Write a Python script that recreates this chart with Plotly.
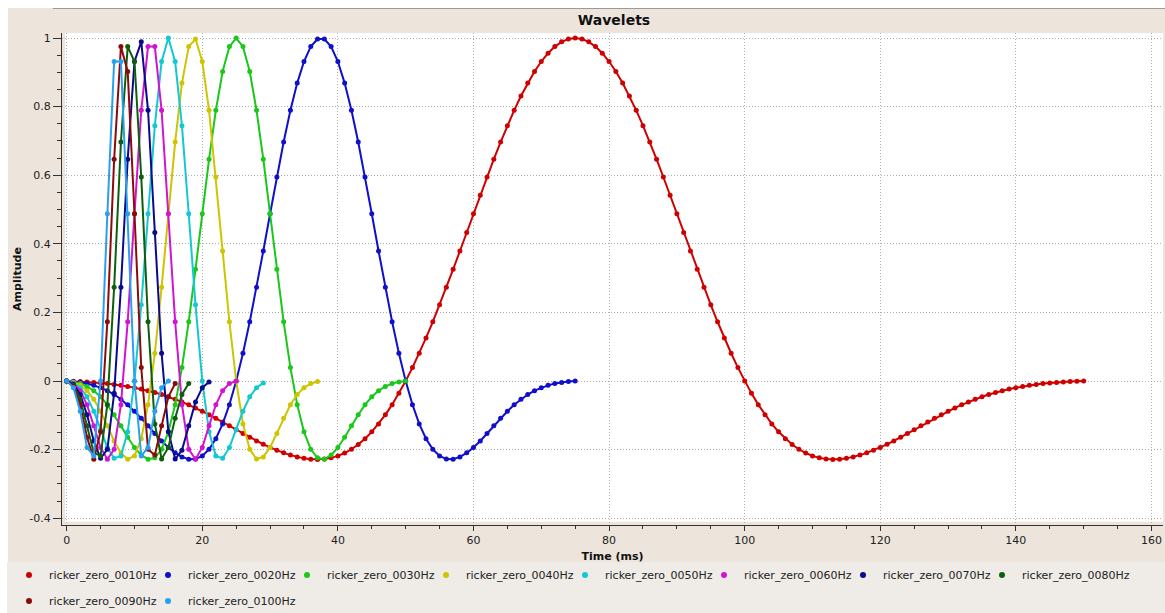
import numpy as np
import plotly.graph_objects as go

FONT = "DejaVu Sans"
SAMPLE_MS = 1.0  # every wavelet is sampled at 1 ms

series_names = [
    "ricker_zero_0010Hz", "ricker_zero_0020Hz", "ricker_zero_0030Hz",
    "ricker_zero_0040Hz", "ricker_zero_0050Hz", "ricker_zero_0060Hz",
    "ricker_zero_0070Hz", "ricker_zero_0080Hz", "ricker_zero_0090Hz",
    "ricker_zero_0100Hz",
]
series_colors = [
    "#d10000", "#0f0fcc", "#19c819", "#cdc500", "#14c8d2",
    "#d214d2", "#0a0a8c", "#0e5e0e", "#8b0a0a", "#28a0f0",
]

amp_0010hz = [
    0.0, -0.0007, -0.0015, -0.0026, -0.0040, -0.0056, -0.0075, -0.0099, -0.0126, -0.0157,
    -0.0194, -0.0235, -0.0282, -0.0335, -0.0394, -0.0460, -0.0532, -0.0610, -0.0694, -0.0785,
    -0.0881, -0.0982, -0.1088, -0.1197, -0.1308, -0.1420, -0.1532, -0.1641, -0.1747, -0.1846,
    -0.1937, -0.2020, -0.2095, -0.2160, -0.2214, -0.2255, -0.2280, -0.2287, -0.2275, -0.2241,
    -0.2183, -0.2100, -0.1990, -0.1851, -0.1682, -0.1482, -0.1250, -0.0986, -0.0689, -0.0360,
    0.0, 0.0391, 0.0810, 0.1257, 0.1727, 0.2220, 0.2730, 0.3255, 0.3791, 0.4333,
    0.4876, 0.5416, 0.5948, 0.6466, 0.6967, 0.7443, 0.7892, 0.8308, 0.8686, 0.9023,
    0.9314, 0.9557, 0.9749, 0.9888, 0.9972, 1.0,
    0.9972, 0.9888, 0.9749, 0.9557, 0.9314,
    0.9023, 0.8686, 0.8308, 0.7892, 0.7443, 0.6967, 0.6466, 0.5948, 0.5416, 0.4876,
    0.4333, 0.3791, 0.3255, 0.2730, 0.2220, 0.1727, 0.1257, 0.0810, 0.0391, 0.0,
    -0.0360, -0.0689, -0.0986, -0.1250, -0.1482, -0.1682, -0.1851, -0.1990, -0.2100, -0.2183,
    -0.2241, -0.2275, -0.2287, -0.2280, -0.2255, -0.2214, -0.2160, -0.2095, -0.2020, -0.1937,
    -0.1846, -0.1747, -0.1641, -0.1532, -0.1420, -0.1308, -0.1197, -0.1088, -0.0982, -0.0881,
    -0.0785, -0.0694, -0.0610, -0.0532, -0.0460, -0.0394, -0.0335, -0.0282, -0.0235, -0.0194,
    -0.0157, -0.0126, -0.0099, -0.0075, -0.0056, -0.0040, -0.0026, -0.0015, -0.0007, 0.0,
]
amp_0020hz = [
    0.0, -0.0015, -0.0040, -0.0075, -0.0126, -0.0194, -0.0282, -0.0394, -0.0532, -0.0694,
    -0.0881, -0.1088, -0.1308, -0.1532, -0.1747, -0.1937, -0.2095, -0.2214, -0.2280, -0.2275,
    -0.2183, -0.1990, -0.1682, -0.1250, -0.0689, 0.0, 0.0810, 0.1727, 0.2730, 0.3791,
    0.4876, 0.5948, 0.6967, 0.7892, 0.8686, 0.9314, 0.9749, 0.9972,
    0.9972, 0.9749, 0.9314, 0.8686, 0.7892, 0.6967, 0.5948, 0.4876, 0.3791, 0.2730,
    0.1727, 0.0810, 0.0, -0.0689, -0.1250, -0.1682, -0.1990, -0.2183, -0.2275, -0.2280,
    -0.2214, -0.2095, -0.1937, -0.1747, -0.1532, -0.1308, -0.1088, -0.0881, -0.0694, -0.0532,
    -0.0394, -0.0282, -0.0194, -0.0126, -0.0075, -0.0040, -0.0015, 0.0,
]
amp_0030hz = [
    0.0, -0.0026, -0.0075, -0.0157, -0.0282, -0.0460, -0.0694, -0.0982, -0.1308, -0.1641,
    -0.1937, -0.2160, -0.2280, -0.2241, -0.1990, -0.1482, -0.0689, 0.0391, 0.1727, 0.3255,
    0.4876, 0.6466, 0.7892, 0.9023, 0.9749, 1.0, 0.9749, 0.9023, 0.7892, 0.6466,
    0.4876, 0.3255, 0.1727, 0.0391, -0.0689, -0.1482, -0.1990, -0.2241, -0.2280, -0.2160,
    -0.1937, -0.1641, -0.1308, -0.0982, -0.0694, -0.0460, -0.0282, -0.0157, -0.0075, -0.0026,
    0.0,
]
amp_0040hz = [
    0.0, -0.0040, -0.0126, -0.0282, -0.0532, -0.0881, -0.1308, -0.1747, -0.2095, -0.2280,
    -0.2183, -0.1682, -0.0689, 0.0810, 0.2730, 0.4876, 0.6967, 0.8686, 0.9749, 0.9972,
    0.9314, 0.7892, 0.5948, 0.3791, 0.1727, 0.0, -0.1250, -0.1990, -0.2275, -0.2214,
    -0.1937, -0.1532, -0.1088, -0.0694, -0.0394, -0.0194, -0.0075, -0.0015,
]
amp_0050hz = [
    0.0, -0.0056, -0.0194, -0.0460, -0.0881, -0.1420, -0.1937, -0.2255, -0.2183, -0.1482,
    0.0, 0.2220, 0.4876, 0.7443, 0.9314, 1.0, 0.9314, 0.7443, 0.4876, 0.2220,
    0.0, -0.1482, -0.2183, -0.2255, -0.1937, -0.1420, -0.0881, -0.0460, -0.0194, -0.0056,
]
amp_0060hz = [
    0.0, -0.0075, -0.0282, -0.0694, -0.1308, -0.1937, -0.2280, -0.1990, -0.0689, 0.1727,
    0.4876, 0.7892, 0.9749, 0.9749, 0.7892, 0.4876, 0.1727, -0.0689, -0.1990, -0.2280,
    -0.1937, -0.1308, -0.0694, -0.0282, -0.0075, 0.0,
]
amp_0070hz = [
    0.0, -0.0099, -0.0394, -0.0982, -0.1747, -0.2255, -0.1990, -0.0360, 0.2730, 0.6466,
    0.9314, 0.9888, 0.7892, 0.4333, 0.0810, -0.1482, -0.2275, -0.2020, -0.1308, -0.0610,
    -0.0194, -0.0026,
]
amp_0080hz = [
    0.0, -0.0126, -0.0532, -0.1308, -0.2095, -0.2183, -0.0689, 0.2730, 0.6967, 0.9749,
    0.9314, 0.5948, 0.1727, -0.1250, -0.2275, -0.1937, -0.1088, -0.0394, -0.0075,
]
amp_0090hz = [
    0.0, -0.0157, -0.0694, -0.1641, -0.2280, -0.1482, 0.1727, 0.6466, 0.9749, 0.9023,
    0.4876, 0.0391, -0.1990, -0.2160, -0.1308, -0.0460, -0.0075,
]
amp_0100hz = [
    0.0, -0.0194, -0.0881, -0.1937, -0.2183, 0.0, 0.4876, 0.9314, 0.9314, 0.4876,
    0.0, -0.2183, -0.1937, -0.0881, -0.0194, 0.0,
]

x_tick_vals = [0, 20, 40, 60, 80, 100, 120, 140, 160]
y_tick_vals = [-0.4, -0.2, 0, 0.2, 0.4, 0.6, 0.8, 1]
y_tick_text = ["-0.4", "-0.2", "0", "0.2", "0.4", "0.6", "0.8", "1"]

all_amps = [amp_0010hz, amp_0020hz, amp_0030hz, amp_0040hz, amp_0050hz,
            amp_0060hz, amp_0070hz, amp_0080hz, amp_0090hz, amp_0100hz]

# page geometry
W, H = 1165, 613
ML, MR, MT, MB = 62, 2, 33, 88
X_RANGE = [-0.69, 161.7]
Y_RANGE = [-0.4198, 1.0146]
LEGEND_ROW_LEN = 8


def px_x(p):
    return (p - ML) / (W - ML - MR)


def px_y(p):
    return (H - MB - p) / (H - MT - MB)


fig = go.Figure()
for name, amps, color in zip(series_names, all_amps, series_colors):
    t = np.arange(len(amps)) * SAMPLE_MS
    fig.add_trace(go.Scatter(
        x=t, y=amps, name=name, mode="lines+markers", legendgroup=name,
        line=dict(color=color, width=2),
        marker=dict(color=color, size=5),
        showlegend=False,
    ))

# compact legend keys (dot only), two rows of entries
for i, (name, color) in enumerate(zip(series_names, series_colors)):
    last_in_row = (i == LEGEND_ROW_LEN - 1) or (i == len(series_names) - 1)
    fig.add_trace(go.Scatter(
        x=[None], y=[None], name=name, mode="markers", legendgroup=name,
        marker=dict(color=color, size=6),
        legend="legend" if i < LEGEND_ROW_LEN else "legend2",
        legendwidth=140 if last_in_row else None,
        hoverinfo="skip",
    ))

axis_common = dict(
    ticks="outside", tickwidth=1, tickcolor="#333333",
    showline=True, linecolor="#333333", linewidth=1,
    showgrid=True, gridcolor="#b0b0b0", griddash="1px,2px", gridwidth=1,
    zeroline=False, automargin=False,
    tickfont=dict(family=FONT, size=11, color="#222222"),
)

legend_common = dict(
    orientation="h", xanchor="left", yanchor="middle",
    entrywidth=94, entrywidthmode="pixels", itemwidth=30,
    bgcolor="rgba(0,0,0,0)",
    font=dict(family=FONT, size=11, color="#222222"),
)

fig.update_layout(
    width=W, height=H, autosize=False,
    margin=dict(l=ML, r=MR, t=MT, b=MB, autoexpand=False),
    paper_bgcolor="white", plot_bgcolor="white",
    font=dict(family=FONT, size=11, color="#222222"),
    title=dict(text="<b>Wavelets</b>", xref="container", x=614 / W, xanchor="center",
               yref="container", y=1 - 20 / H, yanchor="middle",
               font=dict(family=FONT, size=14, color="#111111")),
    xaxis=dict(range=X_RANGE, tickmode="array", tickvals=x_tick_vals, ticklen=5,
               minor=dict(tick0=0, dtick=5, ticks="outside", ticklen=3,
                          tickcolor="#333333", showgrid=False),
               title=dict(text="<b>Time (ms)</b>", standoff=6,
                          font=dict(family=FONT, size=11, color="#111111")),
               **axis_common),
    yaxis=dict(range=Y_RANGE, tickmode="array", tickvals=y_tick_vals, ticktext=y_tick_text,
               ticklen=8,
               minor=dict(tick0=0, dtick=0.05, ticks="outside", ticklen=4,
                          tickcolor="#333333", showgrid=False),
               title=dict(text="<b>Amplitude</b>", standoff=5,
                          font=dict(family=FONT, size=11, color="#111111")),
               **axis_common),
    legend=dict(x=px_x(9), y=px_y(575), **legend_common),
    legend2=dict(x=px_x(9), y=px_y(601), **legend_common),
    showlegend=True,
    shapes=[
        # frame background
        dict(type="rect", xref="paper", yref="paper", layer="below",
             x0=px_x(8), x1=px_x(W), y0=px_y(562), y1=px_y(8),
             fillcolor="#ede5dc", line=dict(width=0)),
        # legend strip
        dict(type="rect", xref="paper", yref="paper", layer="below",
             x0=px_x(7), x1=px_x(W), y0=px_y(H), y1=px_y(562),
             fillcolor="#efebe6", line=dict(width=0)),
        # top rule
        dict(type="line", xref="paper", yref="paper",
             x0=px_x(53), x1=px_x(W), y0=px_y(8.5), y1=px_y(8.5),
             line=dict(color="#9a9a9a", width=1)),
        # white canvas of the plot
        dict(type="rect", xref="x", yref="y", layer="below",
             x0=-0.25, x1=X_RANGE[1], y0=-0.41, y1=Y_RANGE[1],
             fillcolor="white", line=dict(width=0)),
    ],
)

fig.write_html("out.html")
